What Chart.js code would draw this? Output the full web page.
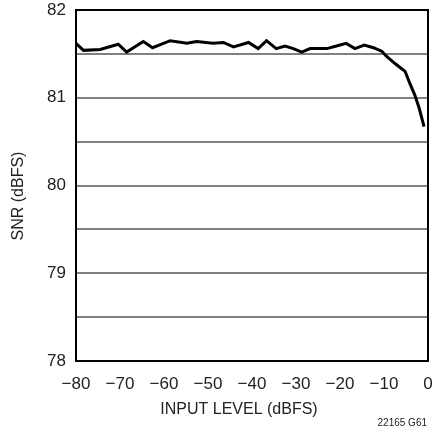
<!DOCTYPE html>
<html>
<head>
<meta charset="utf-8">
<script src="https://cdn.jsdelivr.net/npm/chart.js@4/dist/chart.umd.min.js"></script>
<style>
  html, body { margin: 0; padding: 0; background: #fff; }
  #wrap { width: 432px; height: 433px; position: relative; }
</style>
</head>
<body>
<div id="wrap"><canvas id="snrChart" width="432" height="433"></canvas></div>
<script>
const FONT = "'Liberation Sans Narrow', 'Arial Narrow', 'Liberation Sans', sans-serif";

// --- data ---
const inputLevel = [-80, -78.3, -74.5, -70.4, -68.5, -64.7, -62.6, -58.6, -54.8, -52.6, -48.9, -46.5,
  -44.2, -40.8, -38.6, -36.7, -34.5, -32.5, -30.6, -28.7, -26.8, -23.0, -20.8, -18.6, -16.6,
  -14.5, -12.4, -10.5, -9.4, -7.5, -6.5, -5.2, -4.1, -3.0, -2.0, -0.9];
const snr = [81.62, 81.54, 81.55, 81.61, 81.52, 81.64, 81.57, 81.65, 81.62, 81.64, 81.62, 81.63,
  81.58, 81.63, 81.56, 81.65, 81.56, 81.59, 81.56, 81.52, 81.56, 81.56, 81.59, 81.62, 81.56,
  81.60, 81.57, 81.53, 81.47, 81.39, 81.35, 81.30, 81.16, 81.03, 80.88, 80.67];
const xTicks = [-80, -70, -60, -50, -40, -30, -20, -10, 0];
const yTicks = [78, 79, 80, 81, 82];

const xTitle = "INPUT LEVEL (dBFS)";
const yTitle = "SNR (dBFS)";
const noteText = "22165 G61";

// --- frame + titles drawn by hand so they sit where the original has them ---
const framePlugin = {
    id: 'frame',
    afterDraw(chart) {
        const { ctx, chartArea: a } = chart;
        ctx.save();
        ctx.strokeStyle = '#000'; ctx.lineWidth = 2;
        ctx.strokeRect(a.left, a.top, a.right - a.left, a.bottom - a.top);

        ctx.fillStyle = '#222';
        ctx.textAlign = 'center'; ctx.textBaseline = 'middle';
        ctx.font = `16px ${FONT}`;
        ctx.fillText(xTitle, 239, 410);

        ctx.save();
        ctx.translate(19, 196); ctx.rotate(-Math.PI / 2);
        ctx.fillText(yTitle, 0, 0);
        ctx.restore();

        ctx.font = `10px ${FONT}`;
        ctx.textAlign = 'right';
        ctx.fillText(noteText, 427, 423);
        ctx.restore();
    }
};

const ctx = document.getElementById('snrChart').getContext('2d');
new Chart(ctx, {
    type: 'line',
    data: {
        datasets: [{
            data: inputLevel.map((x, i) => ({ x: x, y: snr[i] })),
            borderColor: '#000', borderWidth: 3, pointRadius: 0,
            tension: 0, fill: false
        }]
    },
    options: {
        responsive: false, animation: false,
        layout: { padding: { top: 10, right: 4, left: 0, bottom: 0 } },
        plugins: { legend: { display: false }, tooltip: { enabled: false } },
        scales: {
            x: {
                type: 'linear', min: -80, max: 0,
                afterFit(s) { s.height = 72; s.paddingLeft = 0; s.paddingRight = 0; },
                afterBuildTicks(s) { s.ticks = xTicks.map(v => ({ value: v })); },
                grid: { display: false, drawTicks: false },
                border: { display: false },
                ticks: {
                    padding: 13, color: '#222', maxRotation: 0, autoSkip: false,
                    font: { family: FONT, size: 17 },
                    callback: v => String(v).replace('-', '\u2212')
                }
            },
            y: {
                min: 78, max: 82,
                afterFit(s) { s.width = 76; s.paddingTop = 0; s.paddingBottom = 0; },
                afterBuildTicks(s) {
                    const t = [];
                    for (let v = 78; v <= 82.001; v += 0.5) t.push({ value: v });
                    s.ticks = t;
                },
                grid: { color: '#808080', lineWidth: 2, drawTicks: false },
                border: { display: false },
                ticks: {
                    padding: 10, color: '#222', autoSkip: false,
                    font: { family: FONT, size: 17 },
                    callback: v => yTicks.includes(v) ? String(v) : ''
                }
            }
        }
    },
    plugins: [framePlugin]
});
</script>
</body>
</html>
